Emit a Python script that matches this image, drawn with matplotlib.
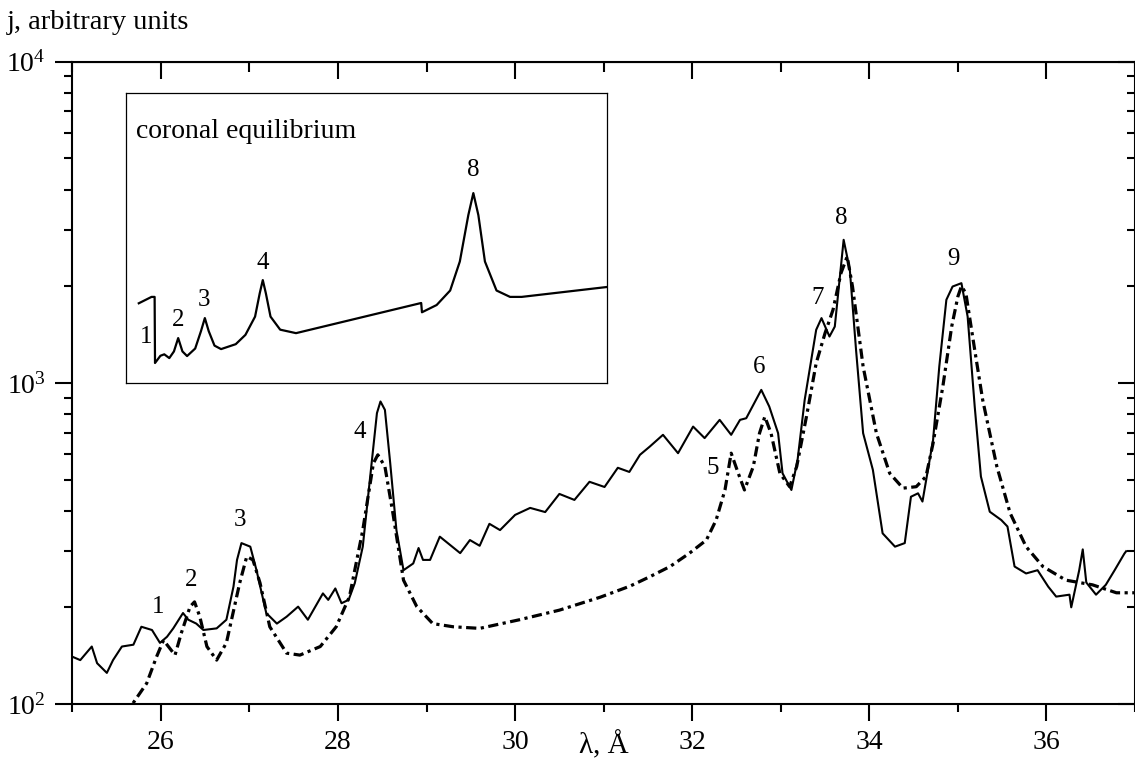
import matplotlib
matplotlib.use('Agg')
import matplotlib.pyplot as plt
from matplotlib.ticker import LogLocator, NullFormatter

plt.rcParams['font.family'] = ['Liberation Serif', 'DejaVu Serif']
plt.rcParams['mathtext.fontset'] = 'custom'
plt.rcParams['mathtext.rm'] = 'Liberation Serif'
plt.rcParams['mathtext.default'] = 'rm'

# measured spectrum (solid)
lam_exp = [25.01, 25.09, 25.22, 25.28, 25.39, 25.46, 25.56, 25.69, 25.78, 25.90,
           25.99, 26.07, 26.14, 26.25, 26.31, 26.40, 26.48, 26.63, 26.74, 26.82,
           26.86, 26.91, 27.01, 27.08, 27.19, 27.31, 27.42, 27.55, 27.66, 27.83,
           27.89, 27.97, 28.04, 28.12, 28.19, 28.28, 28.36, 28.44, 28.48, 28.53,
           28.59, 28.66, 28.74, 28.85, 28.91, 28.96, 29.04, 29.15, 29.24, 29.38,
           29.49, 29.60, 29.71, 29.83, 30.00, 30.17, 30.34, 30.50, 30.67, 30.84,
           31.01, 31.16, 31.29, 31.41, 31.52, 31.67, 31.84, 32.01, 32.14, 32.31,
           32.44, 32.54, 32.61, 32.78, 32.87, 32.97, 33.02, 33.12, 33.19, 33.27,
           33.40, 33.46, 33.55, 33.61, 33.71, 33.78, 33.85, 33.93, 34.04, 34.15,
           34.29, 34.40, 34.47, 34.55, 34.60, 34.72, 34.79, 34.87, 34.94, 35.04,
           35.11, 35.19, 35.26, 35.36, 35.49, 35.56, 35.64, 35.77, 35.90, 36.02,
           36.11, 36.26, 36.28, 36.37, 36.41, 36.45, 36.56, 36.67, 36.77, 36.88,
           36.90]
j_exp = [140, 137, 151, 134, 125, 137, 151, 153, 174, 170,
         155, 162, 172, 192, 183, 178, 170, 172, 183, 232,
         281, 317, 309, 261, 192, 178, 187, 201, 183, 221,
         211, 229, 206, 211, 238, 309, 499, 805, 875, 824,
         562, 348, 261, 274, 306, 281, 281, 332, 317, 295,
         324, 311, 364, 348, 388, 408, 396, 451, 432, 492,
         474, 544, 528, 597, 633, 689, 604, 731, 673, 767,
         689, 767, 776, 951, 844, 697, 523, 464, 576, 885,
         1463, 1591, 1394, 1497, 2789, 2249, 1267, 697, 536, 340,
         309, 317, 442, 453, 427, 664, 1124, 1814, 1995, 2044,
         1609, 844, 511, 397, 374, 357, 268, 255, 261, 232,
         216, 219, 200, 261, 303, 239, 219, 235, 261, 294,
         299]

# calculated spectrum (dash-dot)
lam_calc = [25.60, 25.69, 25.84, 25.95, 26.03, 26.16, 26.23, 26.33, 26.38, 26.44,
            26.52, 26.63, 26.74, 26.89, 26.97, 27.04, 27.12, 27.23, 27.42, 27.57,
            27.80, 27.98, 28.13, 28.28, 28.40, 28.45, 28.53, 28.62, 28.74, 28.89,
            29.07, 29.30, 29.60, 30.05, 30.50, 30.96, 31.30, 31.52, 31.75, 31.97,
            32.16, 32.27, 32.37, 32.44, 32.52, 32.59, 32.69, 32.76, 32.82, 32.89,
            32.99, 33.10, 33.18, 33.29, 33.40, 33.50, 33.59, 33.68, 33.75, 33.81,
            33.93, 34.08, 34.23, 34.38, 34.53, 34.64, 34.72, 34.83, 34.93, 35.00,
            35.04, 35.09, 35.19, 35.28, 35.44, 35.59, 35.77, 35.96, 36.22, 36.52,
            36.79, 37.00]
j_calc = [92, 101, 116, 140, 158, 142, 166, 201, 208, 187,
          151, 137, 155, 238, 288, 281, 238, 174, 144, 142,
          151, 174, 216, 348, 562, 597, 549, 393, 243, 201,
          178, 174, 172, 183, 196, 215, 233, 249, 268, 295,
          324, 374, 464, 604, 523, 464, 549, 697, 785, 697,
          523, 475, 549, 785, 1152, 1428, 1688, 2197, 2474, 1995,
          1124, 697, 523, 470, 475, 511, 649, 974, 1497, 1857,
          2000, 1903, 1267, 885, 549, 393, 309, 268, 243, 235,
          222, 222]

# inset: coronal equilibrium (arbitrary units)
lam_cor = [25.29, 25.62, 25.70, 25.71, 25.85, 25.95, 26.08, 26.20, 26.31, 26.42,
           26.54, 26.75, 26.90, 27.00, 27.10, 27.25, 27.42, 27.80, 28.05, 28.30,
           28.42, 28.50, 28.58, 28.70, 28.95, 29.36, 32.60, 32.62, 33.00, 33.35,
           33.60, 33.82, 33.95, 34.08, 34.25, 34.55, 34.90, 35.20, 37.40]
j_cor = [2.76, 2.98, 2.98, 0.70, 0.95, 1.00, 0.87, 1.10, 1.56, 1.10,
         0.94, 1.20, 1.80, 2.25, 1.80, 1.30, 1.18, 1.35, 1.67, 2.30,
         3.10, 3.56, 3.10, 2.30, 1.85, 1.73, 2.77, 2.45, 2.70, 3.20,
         4.20, 5.80, 6.56, 5.80, 4.20, 3.20, 2.98, 2.98, 3.32]

peak_labels = ['1', '2', '3', '4', '5', '6', '7', '8', '9']
peak_lam = [25.97, 26.34, 26.89, 28.25, 32.23, 32.76, 33.42, 33.68, 34.95]
peak_j = [201, 243, 374, 705, 542, 1124, 1836, 3259, 2428]

cor_labels = ['1', '2', '3', '4', '8']
cor_lam = [25.47, 26.31, 26.98, 28.50, 33.95]
cor_j = [1.61, 2.18, 2.87, 4.15, 7.36]

fig = plt.figure(figsize=(11.35, 7.62), dpi=100)
ax = fig.add_axes([0.0637, 0.0761, 0.9363, 0.8429])

ax.plot(lam_exp, j_exp, color='black', lw=1.5)
ax.plot(lam_calc, j_calc, color='black', lw=2.3, linestyle=(0, (3.2, 1.4, 1.0, 1.4)))

for t, x, y in zip(peak_labels, peak_lam, peak_j):
    ax.text(x, y, t, fontsize=18, ha='center', va='center')

ax.set_yscale('log')
ax.set_xlim(25, 37)
ax.set_ylim(100, 1e4)

xmaj = [26, 28, 30, 32, 34, 36]
xmin = [25, 27, 29, 31, 33, 35, 37]
ax.set_xticks(xmaj)
ax.set_xticks(xmin, minor=True)
ax.set_yticks([1e2, 1e3, 1e4])
ax.set_yticklabels(['$10^2$', '$10^3$', '$10^4$'])
ax.yaxis.set_minor_locator(LogLocator(base=10, subs=range(2, 10)))
ax.yaxis.set_minor_formatter(NullFormatter())
ax.tick_params(which='major', direction='out', length=12, width=1.5, labelsize=20, pad=7)
ax.tick_params(which='minor', direction='out', length=6, width=1.5)
for s in ax.spines.values():
    s.set_linewidth(1.5)

# inward ticks on top and right
secx = ax.secondary_xaxis('top')
secx.set_xticks(xmaj)
secx.set_xticks(xmin, minor=True)
secx.set_xticklabels([])
secx.tick_params(which='major', direction='in', length=12, width=1.5)
secx.tick_params(which='minor', direction='in', length=7, width=1.5)
secy = ax.secondary_yaxis('right')
secy.set_yticks([1e2, 1e3, 1e4])
secy.set_yticklabels([])
secy.yaxis.set_minor_locator(LogLocator(base=10, subs=range(2, 10)))
secy.yaxis.set_minor_formatter(NullFormatter())
secy.tick_params(which='major', direction='in', length=12, width=1.5)
secy.tick_params(which='minor', direction='in', length=6, width=1.5)

fig.text(0.006, 0.971, 'j, arbitrary units', fontsize=20.5, ha='left', va='center')
ax.text(31.0, -0.064, 'λ, Å', transform=ax.get_xaxis_transform(),
        fontsize=21, ha='center', va='center')

# inset
ins = ax.inset_axes([0.0502, 0.4993, 0.4526, 0.4515])
ins.plot(lam_cor, j_cor, color='black', lw=1.6)
ins.set_xlim(24.95, 37.4)
ins.set_ylim(0, 10)
ins.set_xticks([])
ins.set_yticks([])
for s in ins.spines.values():
    s.set_linewidth(0.9)
ins.text(25.21, 8.68, 'coronal equilibrium', fontsize=20, ha='left', va='center')
for t, x, y in zip(cor_labels, cor_lam, cor_j):
    ins.text(x, y, t, fontsize=18, ha='center', va='center')

fig.savefig('out.png', dpi=100)
